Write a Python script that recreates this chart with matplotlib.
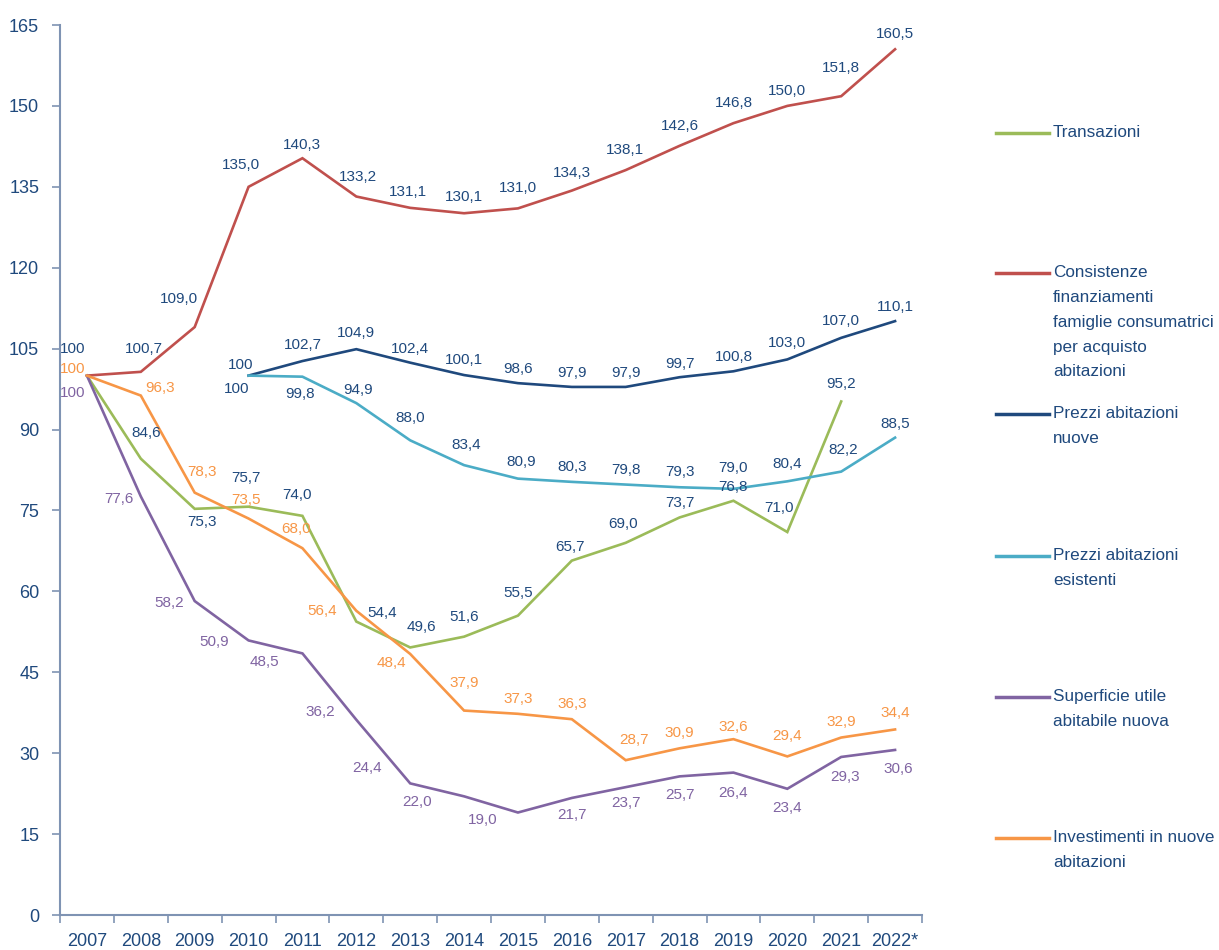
import numpy as np
import matplotlib
matplotlib.use('Agg')
import matplotlib.pyplot as plt
from matplotlib.lines import Line2D

plt.rcParams['font.family'] = ['Liberation Sans', 'DejaVu Sans']

# ---------------- data ----------------
years = ['2007', '2008', '2009', '2010', '2011', '2012', '2013', '2014',
         '2015', '2016', '2017', '2018', '2019', '2020', '2021', '2022*']

transazioni = [100, 84.6, 75.3, 75.7, 74.0, 54.4, 49.6, 51.6, 55.5, 65.7,
               69.0, 73.7, 76.8, 71.0, 95.2, None]
consistenze = [100, 100.7, 109.0, 135.0, 140.3, 133.2, 131.1, 130.1, 131.0,
               134.3, 138.1, 142.6, 146.8, 150.0, 151.8, 160.5]
prezzi_nuove = [None, None, None, 100, 102.7, 104.9, 102.4, 100.1, 98.6,
                97.9, 97.9, 99.7, 100.8, 103.0, 107.0, 110.1]
prezzi_esistenti = [None, None, None, 100, 99.8, 94.9, 88.0, 83.4, 80.9,
                    80.3, 79.8, 79.3, 79.0, 80.4, 82.2, 88.5]
superficie = [100, 77.6, 58.2, 50.9, 48.5, 36.2, 24.4, 22.0, 19.0, 21.7,
              23.7, 25.7, 26.4, 23.4, 29.3, 30.6]
investimenti = [100, 96.3, 78.3, 73.5, 68.0, 56.4, 48.4, 37.9, 37.3, 36.3,
                28.7, 30.9, 32.6, 29.4, 32.9, 34.4]

legend_labels = ['Transazioni',
                 'Consistenze\nfinanziamenti\nfamiglie consumatrici\nper acquisto\nabitazioni',
                 'Prezzi abitazioni\nnuove',
                 'Prezzi abitazioni\nesistenti',
                 'Superficie utile\nabitabile nuova',
                 'Investimenti in nuove\nabitazioni']

y_ticks = [0, 15, 30, 45, 60, 75, 90, 105, 120, 135, 150, 165]

# ---------------- styles ----------------
NAVY = '#1F497D'
GREEN = '#9BBB59'
RED = '#C0504D'
LBLUE = '#4BACC6'
PURPLE = '#8064A2'
ORANGE = '#F79646'
AXIS = '#7F93B3'

# label offsets in pixels (dx, dy up); None = no label
off_trans = [None, (5, 26), (7, -13), (-3, 29), (-5, 21), (26, 9), (11, 20), (0, 20),
             (0, 23), (-2, 14), (-3, 19), (0, 14), (0, 14), (-8, 24), (0, 17), None]
off_cons = [(-14, 27), (3, 23), (-16, 28), (-8, 22), (0, 13), (2, 20), (-2, 16), (0, 16),
            (0, 20), (0, 18), (-1, 20), (0, 20), (0, 20), (0, 15), (0, 28), (0, 15)]
off_nuove = [None, None, None, (-8, 11), (0, 16), (0, 16), (0, 14), (0, 15), (0, 14),
             (0, 14), (0, 14), (0, 13), (0, 14), (0, 16), (0, 17), (0, 14)]
off_esist = [None, None, None, (-12, -13), (-2, -17), (2, 13), (0, 22), (2, 20), (3, 17),
             (0, 15), (0, 15), (0, 15), (0, 21), (0, 17), (2, 22), (0, 14)]
off_sup = [(-14, -17), (-22, -3), (-26, -2), (-34, -2), (-38, -9), (-36, 8), (-43, 15),
           (-47, -6), (-35, -7), (0, -17), (0, -16), (0, -19), (0, -20), (0, -19),
           (4, -20), (3, -19)]
off_inv = [(-14, 7), (19, 8), (7, 21), (-3, 19), (-6, 19), (-34, 0), (-19, -9), (0, 28),
           (0, 15), (0, 15), (8, 20), (0, 15), (0, 12), (0, 20), (0, 16), (0, 16)]

series = [
    (transazioni, GREEN, NAVY, off_trans),
    (consistenze, RED, NAVY, off_cons),
    (prezzi_nuove, NAVY, NAVY, off_nuove),
    (prezzi_esistenti, LBLUE, NAVY, off_esist),
    (superficie, PURPLE, PURPLE, off_sup),
    (investimenti, ORANGE, ORANGE, off_inv),
]


def fmt(v):
    if v == 100:
        return '100'
    return f'{v:.1f}'.replace('.', ',')


fig = plt.figure(figsize=(12.19, 9.5), dpi=100)
ax = fig.add_axes([60 / 1219, 35 / 950, 862 / 1219, 890 / 950])

x = np.arange(len(years))
for vals, lc, tc, offs in series:
    y = np.array([np.nan if v is None else v for v in vals], dtype=float)
    ax.plot(x, y, color=lc, lw=1.9, solid_joinstyle='miter', zorder=3)
    for xi, v, o in zip(x, vals, offs):
        if v is None or o is None:
            continue
        ax.annotate(fmt(v), (xi, v), xytext=o, textcoords='offset pixels',
                    ha='center', va='center', color=tc, fontsize=11, zorder=4)

ax.set_xlim(-0.5, len(years) - 0.5)
ax.set_ylim(0, 165)
ax.set_yticks(y_ticks)
ax.set_yticklabels([str(t) for t in y_ticks])
ax.set_xticks(x)
ax.set_xticklabels(years)
ax.set_xticks(np.arange(-0.5, len(years), 1.0), minor=True)
ax.tick_params(axis='x', which='major', length=0, pad=13, labelsize=13, labelcolor=NAVY)
ax.tick_params(axis='x', which='minor', length=6, width=1.2, color=AXIS, direction='out')
ax.tick_params(axis='y', which='major', length=6, width=1.2, color=AXIS, direction='out',
               labelsize=13, labelcolor=NAVY, pad=9)

for s in ['top', 'right']:
    ax.spines[s].set_visible(False)
for s in ['left', 'bottom']:
    ax.spines[s].set_color(AXIS)
    ax.spines[s].set_linewidth(1.5)
ax.spines['left'].set_bounds(0, 165)

# ---------------- legend (custom) ----------------
leg_y = [133, 273, 414, 556, 697, 838]
colors = [GREEN, RED, NAVY, LBLUE, PURPLE, ORANGE]
for yy, lab, c in zip(leg_y, legend_labels, colors):
    fy = 1 - yy / 950
    fig.add_artist(Line2D([996 / 1219, 1049 / 1219], [fy, fy], color=c, lw=2.5,
                          transform=fig.transFigure))
    fig.text(1053 / 1219, 1 - (yy - 8) / 950, lab, ha='left', va='top', color=NAVY,
             fontsize=12.3, linespacing=1.82)

fig.savefig('out.png', dpi=100)
